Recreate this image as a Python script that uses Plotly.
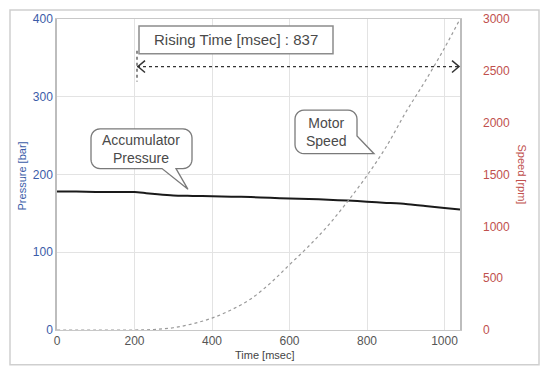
import math
import plotly.graph_objects as go

# ---------------- data ----------------
time_ms = [0, 50, 100, 150, 200, 230, 260, 300, 350, 400, 450, 500, 550, 600, 650, 700, 750, 800, 850, 900, 950, 1000, 1040]
pressure_bar = [178, 178, 177.5, 177.5, 177.5, 176, 174.5, 173, 172.5, 172, 171.5, 171, 170, 169, 168.5, 167.5, 166.5, 165, 163.5, 162, 159.5, 157, 155]

speed_time_ms = [0, 100, 200, 250, 300, 350, 400, 450, 500, 550, 600, 650, 700, 750, 800, 850, 900, 950, 1000, 1040]
speed_rpm = [0, 0, 0, 5, 22, 60, 115, 195, 300, 450, 630, 810, 1010, 1240, 1490, 1770, 2100, 2400, 2720, 3000]

x_ticks = [0, 200, 400, 600, 800, 1000]
p_ticks = [0, 100, 200, 300, 400]
s_ticks = [0, 500, 1000, 1500, 2000, 2500, 3000]

rising_time_label = "Rising Time [msec] : 837"

# ---------------- layout geometry (pixels) ----------------
W, H = 541, 368
L, R, T, B = 57, 460, 16, 330


def px(x):
    return (x - L) / (R - L)


def py(y):
    return (B - y) / (B - T)


def path(points, close=True):
    s = "M " + " L ".join(f"{px(a):.5f},{py(b):.5f}" for a, b in points)
    return s + (" Z" if close else "")


def rounded_callout(x0, y0, x1, y1, r, tail=None):
    pts = []

    def arc(cx, cy, a0, a1):
        for i in range(7):
            a = math.radians(a0 + (a1 - a0) * i / 6)
            pts.append((cx + r * math.cos(a), cy + r * math.sin(a)))

    arc(x0 + r, y0 + r, 180, 270)
    arc(x1 - r, y0 + r, 270, 360)
    if tail and tail[0] == "right":
        pts.append((x1, tail[1]))
        pts.append(tail[3])
        pts.append(tail[2])
    else:
        arc(x1 - r, y1 - r, 0, 90)
    if tail and tail[0] == "bottom":
        pts.append((tail[2], y1))
        pts.append(tail[3])
        pts.append((tail[1], y1))
    arc(x0 + r, y1 - r, 90, 180)
    return path(pts)


fig = go.Figure()

fig.add_trace(go.Scatter(
    x=speed_time_ms, y=speed_rpm, yaxis="y2", mode="lines",
    line=dict(color="#9a9a9a", width=1.2, dash="dot", shape="spline", smoothing=1),
    name="Motor Speed", hoverinfo="skip"))

fig.add_trace(go.Scatter(
    x=time_ms, y=pressure_bar, mode="lines",
    line=dict(color="#1a1a1a", width=2, shape="spline", smoothing=0.6),
    name="Accumulator Pressure", hoverinfo="skip"))

tickfont = dict(family="Liberation Sans, Arial, sans-serif", size=12)

fig.update_layout(
    width=W, height=H,
    margin=dict(l=L, r=W - R, t=T, b=H - B),
    paper_bgcolor="white", plot_bgcolor="white",
    showlegend=False,
    xaxis=dict(
        range=[0, 1040], tickvals=x_ticks, ticks="",
        showgrid=True, gridcolor="#e3e3e3", gridwidth=1,
        showline=True, linecolor="#c8c8c8", linewidth=1, mirror=True,
        zeroline=False,
        tickfont=dict(color="#555555", **tickfont),
    ),
    yaxis=dict(
        range=[0, 400], tickvals=p_ticks, ticks="",
        showgrid=True, gridcolor="#e3e3e3", gridwidth=1,
        showline=True, linecolor="#bdbdbd", linewidth=1.5, mirror=True,
        zeroline=False,
        tickfont=dict(color="#3b5ca8", **tickfont),
    ),
    yaxis2=dict(
        range=[0, 3000], tickvals=s_ticks, overlaying="y", side="right",
        showgrid=False, zeroline=False, ticks="",
        ticklabelstandoff=22,
        tickfont=dict(color="#c0504d", **tickfont),
    ),
)

shapes = []
shapes.append(dict(type="rect", xref="paper", yref="paper",
                   x0=px(10), x1=px(539), y0=py(7), y1=py(365),
                   line=dict(color="#cfcfcf", width=1.5), layer="below"))
shapes.append(dict(type="rect", xref="paper", yref="paper",
                   x0=px(139), x1=px(333), y0=py(23), y1=py(51),
                   line=dict(color="#8c8c8c", width=1.5), fillcolor="white"))
shapes.append(dict(type="line", xref="paper", yref="paper",
                   x0=px(137), x1=px(137), y0=py(48), y1=py(79),
                   line=dict(color="#666666", width=1.5, dash="dot")))
shapes.append(dict(type="line", xref="paper", yref="paper",
                   x0=px(137), x1=px(460), y0=py(64), y1=py(64),
                   line=dict(color="#333333", width=1.2, dash="dot")))
shapes.append(dict(type="path", xref="paper", yref="paper",
                   path=path([(145, 58), (138, 64), (145, 70)], close=False),
                   line=dict(color="#333333", width=1.5)))
shapes.append(dict(type="path", xref="paper", yref="paper",
                   path=path([(452, 58), (459, 64), (452, 70)], close=False),
                   line=dict(color="#333333", width=1.5)))
shapes.append(dict(type="path", xref="paper", yref="paper",
                   path=rounded_callout(91, 127, 192, 167, 9,
                                        tail=("bottom", 162, 176, (188, 188))),
                   line=dict(color="#7a7a7a", width=1.3), fillcolor="white"))
shapes.append(dict(type="path", xref="paper", yref="paper",
                   path=rounded_callout(295, 108, 357, 152, 9,
                                        tail=("right", 134, (348, 152), (374, 152))),
                   line=dict(color="#7a7a7a", width=1.3), fillcolor="white"))
fig.update_layout(shapes=shapes)

txt = dict(family="Liberation Sans, Arial, sans-serif", color="#4a4a4a")
ann = [
    dict(x=px(236), y=py(37), text=rising_time_label, font=dict(size=15, **txt)),
    dict(x=px(141), y=py(147), text="Accumulator<br>Pressure", font=dict(size=14, **txt)),
    dict(x=px(326), y=py(130), text="Motor<br>Speed", font=dict(size=14, **txt)),
    dict(x=px(22), y=py(175), text="Pressure [bar]", textangle=-90,
         font=dict(size=11, family="Liberation Sans, Arial, sans-serif", color="#3b5ca8")),
    dict(x=px(522), y=py(173), text="Speed [rpm]", textangle=90,
         font=dict(size=11, family="Liberation Sans, Arial, sans-serif", color="#c0504d")),
    dict(x=px(265), y=py(355), text="Time [msec]",
         font=dict(size=11, family="Liberation Sans, Arial, sans-serif", color="#444444")),
]
for a in ann:
    a.update(xref="paper", yref="paper", showarrow=False, xanchor="center", yanchor="middle")
fig.update_layout(annotations=ann)

fig.write_html("out.html")
